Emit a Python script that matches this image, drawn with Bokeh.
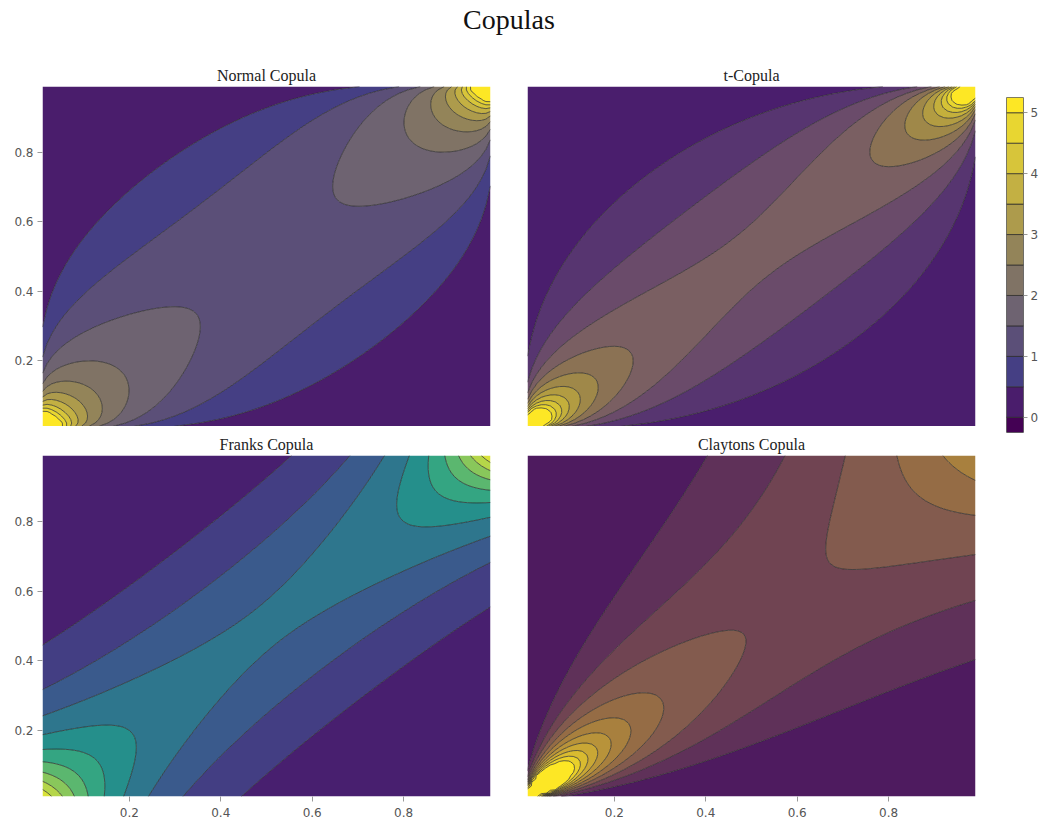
import math
import numpy as np
from statistics import NormalDist
from bokeh.plotting import figure
from bokeh.layouts import gridplot, row, column
from bokeh.models import Range1d, FixedTicker
from bokeh.embed import file_html
from bokeh.resources import INLINE

# ---------------- data ----------------
U_START, U_STOP, U_NUM = 0.01, 0.99, 99
NORMAL_RHO = 0.7
T_RHO = 0.7
T_DF = 4
FRANK_THETA = 5.5
CLAYTON_THETA = 2.0
LEVELS = [-0.25, 0.0, 0.5, 1.0, 1.5, 2.0, 2.5, 3.0, 3.5, 4.0, 4.5, 5.0, 5.25]
Z_CAP = 5.2
AXIS_TICKS = [0.2, 0.4, 0.6, 0.8]
CBAR_TICKS = [0, 1, 2, 3, 4, 5]
MAIN_TITLE = "Copulas"
TITLES = ["Normal Copula", "t-Copula", "Franks Copula", "Claytons Copula"]

NORMAL_PAL = ["#440154", "#4a1d6c", "#453f84", "#5b4f78", "#6e6371", "#807365",
              "#938459", "#ad9b4c", "#c3b043", "#d7c53a", "#e8d631", "#fde725"]
T_PAL = ["#440154", "#4a1e6d", "#573570", "#6a4b6a", "#7a5f62", "#8b7254",
         "#9f8849", "#b29c42", "#c4b03c", "#d6c336", "#e8d62f", "#fde725"]
FRANK_PAL = ["#440154", "#481f6f", "#433e83", "#3a5a8c", "#2e768d", "#258f8b",
             "#34a582", "#5bb76f", "#89c75b", "#b5d649", "#d9e23a", "#fde725"]
CLAYTON_PAL = ["#440154", "#4e1b5f", "#5f3159", "#704452", "#835b4e", "#956c45",
               "#a8803e", "#b8933a", "#c9a735", "#d9bb30", "#e9d02b", "#fde725"]

u = np.linspace(U_START, U_STOP, U_NUM)
U, V = np.meshgrid(u, u)


def normal_copula(U, V, rho):
    q = np.vectorize(NormalDist().inv_cdf)
    a, b = q(U), q(V)
    e = -(rho ** 2 * (a ** 2 + b ** 2) - 2 * rho * a * b) / (2 * (1 - rho ** 2))
    return np.exp(e) / np.sqrt(1 - rho ** 2)


def t_copula(U, V, rho, nu):
    c1 = math.gamma((nu + 1) / 2) / (math.gamma(nu / 2) * math.sqrt(nu * math.pi))
    xs = np.linspace(-200, 200, 400001)
    pdf = c1 * (1 + xs ** 2 / nu) ** (-(nu + 1) / 2)
    cdf = np.concatenate([[0], np.cumsum((pdf[1:] + pdf[:-1]) / 2 * np.diff(xs))])
    cdf = cdf / cdf[-1]
    x = np.interp(U, cdf, xs)
    y = np.interp(V, cdf, xs)
    f1x = c1 * (1 + x ** 2 / nu) ** (-(nu + 1) / 2)
    f1y = c1 * (1 + y ** 2 / nu) ** (-(nu + 1) / 2)
    f2 = (1 / (2 * math.pi * math.sqrt(1 - rho ** 2))) * \
        (1 + (x ** 2 - 2 * rho * x * y + y ** 2) / (nu * (1 - rho ** 2))) ** (-(nu + 2) / 2)
    return f2 / (f1x * f1y)


def frank_copula(U, V, th):
    num = th * (1 - np.exp(-th)) * np.exp(-th * (U + V))
    den = ((1 - np.exp(-th)) - (1 - np.exp(-th * U)) * (1 - np.exp(-th * V))) ** 2
    return num / den


def clayton_copula(U, V, th):
    return (1 + th) * (U * V) ** (-th - 1) * (U ** -th + V ** -th - 1) ** (-2 - 1 / th)


Z = [normal_copula(U, V, NORMAL_RHO), t_copula(U, V, T_RHO, T_DF),
     frank_copula(U, V, FRANK_THETA), clayton_copula(U, V, CLAYTON_THETA)]
Z = [np.minimum(z, Z_CAP) for z in Z]
PALS = [NORMAL_PAL, T_PAL, FRANK_PAL, CLAYTON_PAL]

# ---------------- styling helpers ----------------
SERIF = "Liberation Serif"
SANS = "DejaVu Sans"
LINE_COLOR = "#2a2a2a"
LINE_ALPHA = 0.72


def style_axis(ax, standoff):
    ax.ticker = FixedTicker(ticks=AXIS_TICKS)
    ax.axis_line_color = None
    ax.major_tick_out = 5
    ax.major_tick_in = 0
    ax.minor_tick_out = 0
    ax.minor_tick_in = 0
    ax.major_tick_line_color = "#999999"
    ax.major_label_text_font = SANS
    ax.major_label_text_font_size = "12px"
    ax.major_label_text_color = "#555555"
    ax.major_label_standoff = standoff


def panel(i, show_x, show_y, top, bottom, left, right, fh):
    p = figure(frame_width=448, frame_height=fh,
               x_range=Range1d(U_START, U_STOP), y_range=Range1d(U_START, U_STOP),
               toolbar_location=None, output_backend="svg",
               x_axis_location="below" if show_x else None,
               y_axis_location="left" if show_y else None,
               min_border_top=top, min_border_bottom=bottom,
               min_border_left=left, min_border_right=right)
    p.title.text = TITLES[i]
    p.title.align = "center"
    p.title.text_font = SERIF
    p.title.text_font_size = "16px"
    p.title.text_font_style = "normal"
    p.title.text_color = "#222222"
    p.title.standoff = 5
    p.grid.visible = False
    p.outline_line_color = None
    p.contour(x=u, y=u, z=Z[i], levels=LEVELS, fill_color=PALS[i],
              line_color=LINE_COLOR, line_alpha=LINE_ALPHA, line_width=1)
    if show_x:
        style_axis(p.xaxis[0], 6)
    if show_y:
        style_axis(p.yaxis[0], 4)
    return p


tl = panel(0, False, True, 28, 0, 42, 18, 340)
tr = panel(1, False, False, 28, 0, 19, 15, 340)
bl = panel(2, True, True, 29, 24, 42, 18, 341)
br = panel(3, True, False, 29, 24, 19, 15, 341)

grid = gridplot([[tl, tr], [bl, br]], toolbar_location=None)

# colour bar (Normal copula scale)
cb = figure(frame_width=17, frame_height=335, x_range=Range1d(0, 1),
            y_range=Range1d(LEVELS[0], LEVELS[-1]), toolbar_location=None,
            output_backend="svg", x_axis_location=None, y_axis_location="right",
            min_border_left=16, min_border_right=25, min_border_top=39,
            min_border_bottom=10)
cb.quad(left=0, right=1, bottom=LEVELS[:-1], top=LEVELS[1:], fill_color=NORMAL_PAL,
        line_color=LINE_COLOR, line_alpha=LINE_ALPHA, line_width=1)
cb.grid.visible = False
cb.outline_line_color = "#999999"
ya = cb.yaxis[0]
ya.ticker = FixedTicker(ticks=CBAR_TICKS)
ya.axis_line_color = None
ya.major_tick_out = 4
ya.major_tick_in = 0
ya.minor_tick_out = 0
ya.minor_tick_in = 0
ya.major_tick_line_color = "#999999"
ya.major_label_text_font = SANS
ya.major_label_text_font_size = "12px"
ya.major_label_text_color = "#555555"
ya.major_label_standoff = 3

# main title
tf = figure(width=1017, height=58, toolbar_location=None, output_backend="svg",
            x_axis_location=None, y_axis_location=None,
            min_border_top=0, min_border_bottom=0, min_border_left=0, min_border_right=0)
tf.title.text = MAIN_TITLE
tf.title.align = "center"
tf.title.text_font = SERIF
tf.title.text_font_size = "28px"
tf.title.text_font_style = "normal"
tf.title.text_color = "#111111"
tf.title.standoff = 2
tf.grid.visible = False
tf.outline_line_color = None

layout = column(tf, row(grid, cb))

with open("out.html", "w") as f:
    f.write(file_html(layout, INLINE))
